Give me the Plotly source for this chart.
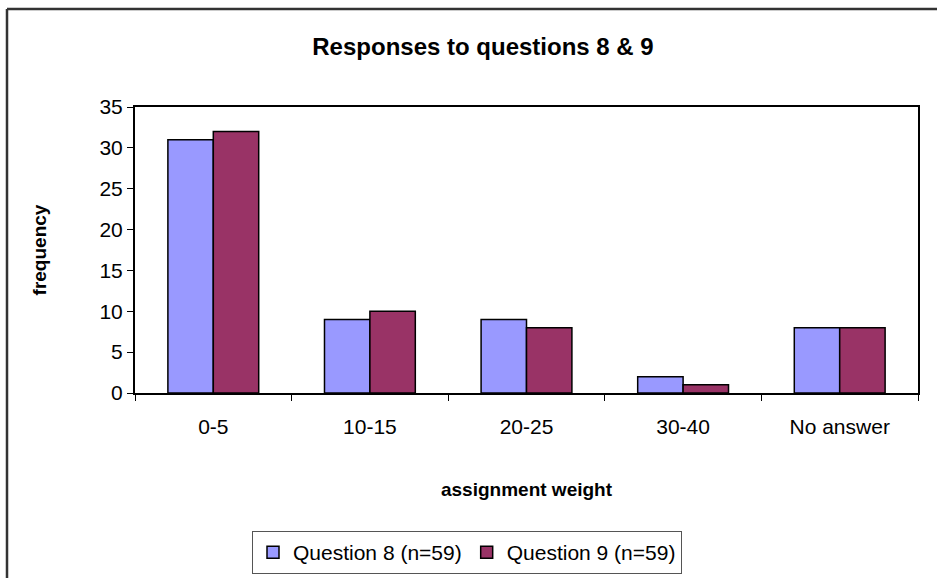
import plotly.graph_objects as go

categories = ["0-5", "10-15", "20-25", "30-40", "No answer"]
q8_values = [31, 9, 9, 2, 8]
q9_values = [32, 10, 8, 1, 8]
series_names = ["Question 8 (n=59)", "Question 9 (n=59)"]
y_ticks = [0, 5, 10, 15, 20, 25, 30, 35]

FONT = "Liberation Sans, Arial, sans-serif"

fig = go.Figure()
fig.add_trace(go.Bar(x=categories, y=q8_values, name=series_names[0],
                     marker=dict(color="#9999FF", line=dict(color="black", width=1.5))))
fig.add_trace(go.Bar(x=categories, y=q9_values, name=series_names[1],
                     marker=dict(color="#993366", line=dict(color="black", width=1.5))))

W, H = 937, 578
L, R, T, B = 135, 19, 107, 185
pw, ph = W - L - R, H - T - B

def px(x):
    return (x - L) / pw

def py(y):
    return (H - B - y) / ph

fig.update_layout(
    width=W, height=H,
    margin=dict(l=L, r=R, t=T, b=B, autoexpand=False),
    paper_bgcolor="white", plot_bgcolor="white",
    barmode="group", bargap=0.42, bargroupgap=0,
    font=dict(family=FONT, color="black", size=21),
    title=dict(text="<b>Responses to questions 8 & 9</b>", x=px(483), xref="paper",
               xanchor="center", y=1 - 47 / H, yanchor="middle",
               font=dict(family=FONT, size=24, color="black")),
    xaxis=dict(title=dict(text="<b>assignment weight</b>", font=dict(size=19), standoff=45),
               showline=True, mirror=True, linecolor="black", linewidth=2,
               ticks="outside", ticklen=6, tickcolor="black", tickson="boundaries",
               ticklabelstandoff=14, tickfont=dict(size=21)),
    yaxis=dict(title=dict(text="<b>frequency</b>", font=dict(size=19), standoff=48),
               range=[0, 35], tickvals=y_ticks, showgrid=False, zeroline=False,
               showline=True, mirror=True, linecolor="black", linewidth=2,
               ticks="outside", ticklen=6, tickcolor="black",
               tickfont=dict(size=21)),
    legend=dict(orientation="h", x=px(467), xanchor="center", y=py(531), yanchor="top",
                bordercolor="#555", borderwidth=1, font=dict(size=21),
                itemwidth=30, traceorder="normal"),
    shapes=[
        dict(type="line", xref="paper", yref="paper", x0=px(7), x1=px(945),
             y0=py(9), y1=py(9), line=dict(color="#333", width=2.5)),
        dict(type="line", xref="paper", yref="paper", x0=px(7), x1=px(7),
             y0=py(9), y1=py(590), line=dict(color="#333", width=2.5)),
    ],
)

fig.write_html("out.html",
               config={"displayModeBar": False},
               post_script="document.body.style.margin='0';document.body.style.padding='0';"
                           "document.documentElement.style.overflow='hidden';")
